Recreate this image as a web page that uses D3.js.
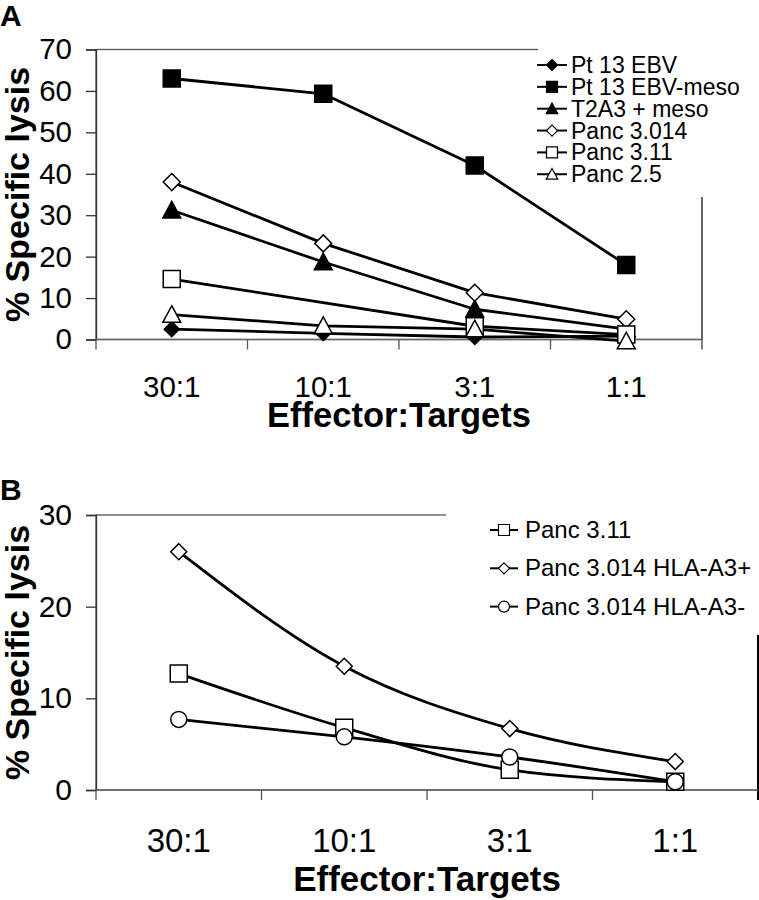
<!DOCTYPE html>
<html>
<head>
<meta charset="utf-8">
<script src="https://cdn.jsdelivr.net/npm/d3@7"></script>
<style>
  body { margin: 0; background: #fff; }
  svg { display: block; font-family: "Liberation Sans", Arial, sans-serif; }
</style>
</head>
<body>
<div id="chart"></div>
<script>
// effector:target ratios (same for both panels)
var categories = ["30:1", "10:1", "3:1", "1:1"]

// panel A
var namesA = ["Pt 13 EBV", "Pt 13 EBV-meso", "T2A3 + meso", "Panc 3.014", "Panc 3.11", "Panc 2.5"]
var pt13Ebv     = [2.5, 1.5, 0.6, 0.8]
var pt13EbvMeso = [63, 59.3, 42, 18]
var t2a3Meso    = [31.2, 18.7, 7.3, 2.5]
var panc3014    = [38, 23.2, 11.3, 4.9]
var panc311     = [14.6, null, 3.2, 1.2]
var panc25      = [6, 3.3, 2.5, -0.4]
var ticksA      = [0, 10, 20, 30, 40, 50, 60, 70]

// panel B
var namesB = ["Panc 3.11", "Panc 3.014 HLA-A3+", "Panc 3.014 HLA-A3-"]
var panc311B    = [12.7, 6.8, 2.2, 0.9]
var hlaA3Pos    = [26, 13.5, 6.7, 3.1]
var hlaA3Neg    = [7.7, 5.8, 3.6, 0.9]
var ticksB      = [0, 10, 20, 30]

var W = 759, H = 900
var svg = d3.select("#chart").append("svg")
    .attr("width", W).attr("height", H)

function shapePath(kind, r) {
    if (kind === "square") return "M" + (-r) + "," + (-r) + "H" + r + "V" + r + "H" + (-r) + "Z"
    if (kind === "diamond") return "M0," + (-r) + "L" + r + ",0L0," + r + "L" + (-r) + ",0Z"
    if (kind === "triangle") return "M0," + (-r * 1.05) + "L" + (r * 1.05) + "," + (r * 0.9) + "L" + (-r * 1.05) + "," + (r * 0.9) + "Z"
    // circle
    return "M" + (-r) + ",0A" + r + "," + r + " 0 1,0 " + r + ",0A" + r + "," + r + " 0 1,0 " + (-r) + ",0Z"
}

function drawPanel(p) {
    var g = svg.append("g")

    var x = d3.scaleBand().domain(categories).range([p.left, p.right]).padding(0)
    var y = d3.scaleLinear().domain([0, p.yMax]).range([p.bottom, p.top])
    var cx = function(c) { return x(c) + x.bandwidth() / 2 }

    // plot frame
    g.append("rect")
        .attr("x", p.left).attr("y", p.top)
        .attr("width", p.right - p.left).attr("height", p.bottom - p.top)
        .attr("fill", "none").attr("stroke", "#555").attr("stroke-width", 1.3)
    g.append("line")
        .attr("x1", p.right).attr("x2", p.right)
        .attr("y1", p.top).attr("y2", p.bottom + 10)
        .attr("stroke", p.rightColor).attr("stroke-width", p.rightWidth)

    // legend background hides the frame corner
    g.append("rect")
        .attr("x", p.legend.boxX).attr("y", p.top - 8)
        .attr("width", W - p.legend.boxX).attr("height", p.legend.boxBottom - p.top + 8)
        .attr("fill", "#fff")

    // y axis
    var yAxis = g.append("g")
        .attr("transform", "translate(" + p.left + ",0)")
        .call(d3.axisLeft(y).tickValues(p.yTicks).tickSize(10).tickPadding(14).tickFormat(d3.format("d")))
    yAxis.select(".domain").attr("stroke", "#333").attr("stroke-width", 1.3)
    yAxis.selectAll(".tick line").attr("stroke", "#333").attr("stroke-width", 1.3)
    yAxis.selectAll("text")
        .attr("font-size", p.yTickSize).attr("fill", "#000")
        .attr("font-family", "Liberation Sans, Arial, sans-serif")

    // x axis: labels at band centres, tick marks at band edges
    var xAxis = g.append("g")
        .attr("transform", "translate(0," + p.bottom + ")")
        .call(d3.axisBottom(x).tickSize(0))
    xAxis.select(".domain").remove()
    xAxis.selectAll("text")
        .attr("dy", null).attr("y", p.xLabelY - p.bottom)
        .attr("font-size", p.xTickSize).attr("fill", "#000")
        .attr("font-family", "Liberation Sans, Arial, sans-serif")
    var edges = categories.map(function(c) { return x(c) })
    g.append("line")
        .attr("x1", p.left).attr("x2", p.right)
        .attr("y1", y(0)).attr("y2", y(0))
        .attr("stroke", "#666").attr("stroke-width", 1.3)
    g.selectAll(".edge").data(edges).enter().append("line")
        .attr("x1", function(d) { return d }).attr("x2", function(d) { return d })
        .attr("y1", p.bottom).attr("y2", p.bottom + 10)
        .attr("stroke", "#555").attr("stroke-width", 1.3)

    // axis titles
    g.append("text")
        .attr("x", (p.left + p.right) / 2).attr("y", p.xTitleY)
        .attr("text-anchor", "middle")
        .attr("font-size", p.xTitleSize).attr("font-weight", "bold")
        .text("Effector:Targets")
    g.append("text")
        .attr("transform", "translate(29," + ((p.top + p.bottom) / 2) + ") rotate(-90)")
        .attr("text-anchor", "middle")
        .attr("font-size", 34).attr("font-weight", "bold")
        .text("% Specific lysis")
    g.append("text")
        .attr("x", 0).attr("y", p.letterY)
        .attr("font-size", 30).attr("font-weight", "bold")
        .text(p.letter)

    // series lines (missing points are bridged)
    var line = d3.line()
        .x(function(d) { return cx(d.c) })
        .y(function(d) { return y(d.v) })
        .curve(p.curve)
    p.series.forEach(function(s) {
        var pts = categories.map(function(c, i) { return { c: c, v: s.values[i] } })
            .filter(function(d) { return d.v != null })
        g.append("path")
            .datum(pts)
            .attr("d", line)
            .attr("fill", "none")
            .attr("stroke", "#000")
            .attr("stroke-width", 2.8)
            .attr("stroke-linejoin", "round")
    })

    // markers
    p.series.forEach(function(s) {
        var pts = categories.map(function(c, i) { return { c: c, v: s.values[i] } })
            .filter(function(d) { return d.v != null })
        g.selectAll(null).data(pts).enter().append("path")
            .attr("transform", function(d) { return "translate(" + cx(d.c) + "," + y(d.v) + ")" })
            .attr("d", shapePath(s.shape, s.r))
            .attr("fill", s.filled ? "#000" : "#fff")
            .attr("stroke", "#000")
            .attr("stroke-width", 1.5)
    })

    // legend
    var L = p.legend
    p.series.forEach(function(s, i) {
        var cy = L.y0 + i * L.step
        g.append("line")
            .attr("x1", L.lineX1).attr("x2", L.lineX2)
            .attr("y1", cy).attr("y2", cy)
            .attr("stroke", "#000").attr("stroke-width", 2)
        g.append("path")
            .attr("transform", "translate(" + ((L.lineX1 + L.lineX2) / 2) + "," + cy + ")")
            .attr("d", shapePath(s.shape, L.r))
            .attr("fill", s.filled ? "#000" : "#fff")
            .attr("stroke", "#000").attr("stroke-width", 1.2)
        g.append("text")
            .attr("x", L.textX).attr("y", cy + 8)
            .attr("font-size", L.font)
            .text(s.name)
    })
}

var valuesA = [pt13Ebv, pt13EbvMeso, t2a3Meso, panc3014, panc311, panc25]
var shapesA = [["diamond", true, 7.5], ["square", true, 8.5], ["triangle", true, 8.5],
               ["diamond", false, 8.5], ["square", false, 8.5], ["triangle", false, 8.5]]

drawPanel({
    letter: "A", letterY: 26,
    left: 96, right: 702, top: 49.5, bottom: 339.5,
    yMax: 70, yTicks: ticksA, yTickSize: 29.5, xTickSize: 29.5,
    xLabelY: 397, xTitleY: 427, xTitleSize: 34.5,
    rightColor: "#555", rightWidth: 1.5,
    curve: d3.curveLinear,
    series: namesA.map(function(n, i) {
        return { name: n, values: valuesA[i], shape: shapesA[i][0], filled: shapesA[i][1], r: shapesA[i][2] }
    }),
    legend: { boxX: 538, boxBottom: 197, y0: 65, step: 21.85, lineX1: 537, lineX2: 567, textX: 571, font: 23, r: 5.5 }
})

var valuesB = [panc311B, hlaA3Pos, hlaA3Neg]
var shapesB = [["square", false, 8.5], ["diamond", false, 8], ["circle", false, 8]]

drawPanel({
    letter: "B", letterY: 500,
    left: 96, right: 758, top: 515, bottom: 790,
    yMax: 30, yTicks: ticksB, yTickSize: 30, xTickSize: 33,
    xLabelY: 852, xTitleY: 891, xTitleSize: 35,
    rightColor: "#000", rightWidth: 2,
    curve: d3.curveMonotoneX,
    series: namesB.map(function(n, i) {
        return { name: n, values: valuesB[i], shape: shapesB[i][0], filled: shapesB[i][1], r: shapesB[i][2] }
    }),
    legend: { boxX: 446, boxBottom: 635, y0: 530, step: 38.3, lineX1: 490, lineX2: 518, textX: 525, font: 24, r: 5.5 }
})
</script>
</body>
</html>
